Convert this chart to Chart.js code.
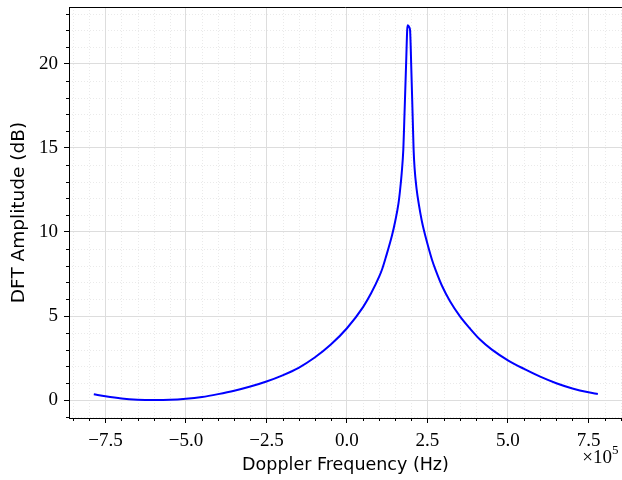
<!DOCTYPE html>
<html>
<head>
<meta charset="utf-8">
<script src="https://cdn.jsdelivr.net/npm/chart.js@4.4.1/dist/chart.umd.min.js"></script>
<style>
	html, body { margin: 0; padding: 0; background: #fff; }
	#wrap { width: 622px; height: 480px; }
</style>
</head>
<body>
<div id="wrap"><canvas id="dftChart" width="622" height="480"></canvas></div>
<script>
// values (frequency in units of 1e5 Hz, amplitude in dB)
const freqs = [
	-7.86, -7.5, -7.0, -6.5, -6.0, -5.5, -5.0, -4.5, -4.0, -3.5,
	-3.0, -2.5, -2.0, -1.5, -1.0, -0.5, 0.0, 0.5, 0.75, 1.0,
	1.1, 1.2, 1.4, 1.5, 1.6, 1.65, 1.7, 1.75, 1.78, 1.81,
	1.84, 1.87, 1.89, 1.93, 1.96, 2.0, 2.04, 2.07, 2.1, 2.16,
	2.24, 2.32, 2.39, 2.52, 2.64, 2.76, 2.95, 3.2, 3.51, 3.8,
	4.13, 4.5, 5.01, 5.5, 6.0, 6.5, 7.0, 7.5, 7.79
];
const amplitudes = [
	0.34, 0.22, 0.09, 0.02, 0.00, 0.01, 0.07, 0.18, 0.35, 0.55,
	0.80, 1.10, 1.47, 1.92, 2.53, 3.30, 4.27, 5.53, 6.35, 7.34,
	7.83, 8.45, 9.80, 10.65, 11.7, 12.5, 13.5, 14.9, 16.6, 18.4,
	20.2, 22.0, 22.3, 22.2, 22.0, 19.6, 16.9, 14.9, 13.8, 12.6,
	11.55, 10.7, 10.1, 9.15, 8.35, 7.7, 6.8, 5.88, 4.98, 4.3,
	3.6, 3.0, 2.35, 1.85, 1.39, 1.0, 0.69, 0.46, 0.36
];
const xTicks = [-7.5, -5, -2.5, 0, 2.5, 5, 7.5];
const xTickLabels = ["\u22127.5", "\u22125.0", "\u22122.5", "0.0", "2.5", "5.0", "7.5"];
const yTicks = [0, 5, 10, 15, 20];
const yTickLabels = ["0", "5", "10", "15", "20"];

const serif = "'Liberation Serif', 'DejaVu Serif', serif";
const sans = "'DejaVu Sans', sans-serif";

// minor grid (dotted), minor ticks, top spine and the x10^5 offset label
const decor = {
	id: "decor",
	beforeDraw(chart) {
		const ctx = chart.ctx;
		const a = chart.chartArea;
		const xs = chart.scales.x;
		const ys = chart.scales.y;
		ctx.save();
		ctx.strokeStyle = "#e4e4e4";
		ctx.lineWidth = 0.8;
		ctx.setLineDash([1, 2]);
		for (let i = -17; i <= 17; i++) {
			if (i % 5 === 0) continue;
			const px = Math.round(xs.getPixelForValue(i * 0.5)) + 0.5;
			ctx.beginPath();
			ctx.moveTo(px, a.top);
			ctx.lineTo(px, a.bottom);
			ctx.stroke();
		}
		for (let v = -1; v <= 23; v++) {
			if (v % 5 === 0) continue;
			const py = Math.round(ys.getPixelForValue(v)) + 0.5;
			ctx.beginPath();
			ctx.moveTo(a.left, py);
			ctx.lineTo(a.right, py);
			ctx.stroke();
		}
		ctx.restore();
	},
	afterDraw(chart) {
		const ctx = chart.ctx;
		const a = chart.chartArea;
		const xs = chart.scales.x;
		const ys = chart.scales.y;
		ctx.save();
		ctx.strokeStyle = "#000";
		ctx.lineWidth = 1;
		for (let i = -17; i <= 17; i++) {
			if (i % 5 === 0) continue;
			const px = Math.round(xs.getPixelForValue(i * 0.5)) + 0.5;
			ctx.beginPath();
			ctx.moveTo(px, a.bottom);
			ctx.lineTo(px, a.bottom + 3);
			ctx.stroke();
		}
		for (let v = -1; v <= 23; v++) {
			if (v % 5 === 0) continue;
			const py = Math.round(ys.getPixelForValue(v)) + 0.5;
			ctx.beginPath();
			ctx.moveTo(a.left - 3, py);
			ctx.lineTo(a.left, py);
			ctx.stroke();
		}
		// top spine
		ctx.beginPath();
		ctx.moveTo(a.left, a.top + 0.5);
		ctx.lineTo(a.right, a.top + 0.5);
		ctx.stroke();
		// offset label
		ctx.fillStyle = "#000";
		ctx.textAlign = "right";
		ctx.textBaseline = "alphabetic";
		ctx.font = "19px " + serif;
		ctx.fillText("\u00d710", 612, 463);
		ctx.textAlign = "left";
		ctx.font = "13px " + serif;
		ctx.fillText("5", 612, 454);
		ctx.restore();
	}
};

const ctx = document.getElementById("dftChart");
new Chart(ctx, {
	type: "line",
	data: {
		datasets: [
			{
				data: freqs.map((f, i) => ({ x: f, y: amplitudes[i] })),
				borderColor: "#0000ff",
				borderWidth: 2,
				pointRadius: 0,
				fill: false,
				cubicInterpolationMode: "monotone",
			},
		],
	},
	options: {
		responsive: false,
		animation: false,
		layout: { padding: { left: 0, top: 7, right: 0, bottom: 0 } },
		plugins: { legend: { display: false }, tooltip: { enabled: false } },
		scales: {
			x: {
				type: "linear",
				min: -8.63,
				max: 8.54,
				afterFit: (s) => {
					s.height = 62;
					s.paddingLeft = 0;
					s.paddingRight = 0;
				},
				afterBuildTicks: (s) => { s.ticks = xTicks.map((v) => ({ value: v })); },
				ticks: {
					color: "#000",
					font: { family: serif, size: 19 },
					padding: 7,
					maxRotation: 0,
					autoSkip: false,
					callback: (v) => xTickLabels[xTicks.indexOf(v)],
				},
				grid: { color: "#dddddd", lineWidth: 1, tickColor: "#000", tickLength: 5 },
				border: { color: "#000", width: 1 },
				title: {
					display: true,
					text: "Doppler Frequency (Hz)",
					color: "#000",
					font: { family: sans, size: 17.5 },
					padding: { top: 0, bottom: 4 },
				},
			},
			y: {
				type: "linear",
				min: -1.07,
				max: 23.39,
				afterFit: (s) => {
					s.width = 69;
					s.paddingTop = 0;
					s.paddingBottom = 0;
				},
				afterBuildTicks: (s) => { s.ticks = yTicks.map((v) => ({ value: v })); },
				ticks: {
					color: "#000",
					font: { family: serif, size: 19 },
					padding: 6,
					autoSkip: false,
					callback: (v) => yTickLabels[yTicks.indexOf(v)],
				},
				grid: { color: "#dddddd", lineWidth: 1, tickColor: "#000", tickLength: 5 },
				border: { color: "#000", width: 1 },
				title: {
					display: true,
					text: "DFT Amplitude (dB)",
					color: "#000",
					font: { family: sans, size: 18.5 },
					padding: { top: 8, bottom: 0 },
				},
			},
		},
	},
	plugins: [decor],
});
</script>
</body>
</html>
